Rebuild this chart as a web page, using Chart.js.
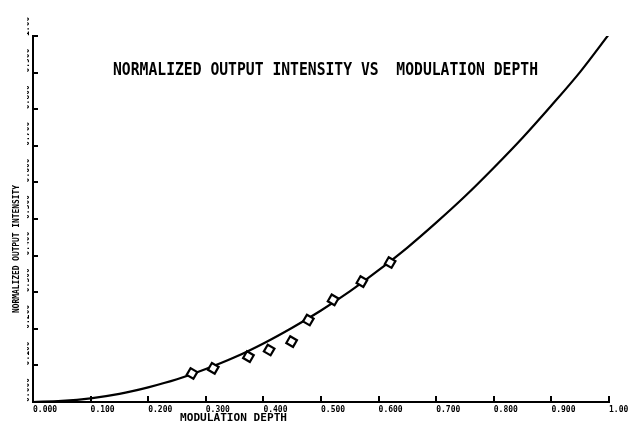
<!DOCTYPE html>
<html>
<head>
<meta charset="utf-8">
<script src="https://cdn.jsdelivr.net/npm/chart.js@4.4.0/dist/chart.umd.min.js"></script>
<style>
  html, body { margin: 0; padding: 0; background: #fff; overflow: hidden; }
  canvas { display: block; }
</style>
</head>
<body>
<canvas id="chart" width="628" height="424"></canvas>
<script>
// Theoretical curve: normalized output intensity vs modulation depth
const curveDepth = [0.00, 0.05, 0.10, 0.15, 0.20, 0.25, 0.30, 0.35, 0.40, 0.45, 0.50,
                    0.55, 0.60, 0.65, 0.70, 0.75, 0.80, 0.85, 0.90, 0.95, 1.00];
const curveIntensity = [0.000, 0.003, 0.010, 0.022, 0.040, 0.062, 0.090, 0.122, 0.160, 0.203, 0.250,
                        0.302, 0.360, 0.422, 0.490, 0.562, 0.640, 0.722, 0.810, 0.902, 1.005];

// Measured points
const measDepth = [0.276, 0.313, 0.374, 0.410, 0.449, 0.478, 0.521, 0.571, 0.620];
const measIntensity = [0.078, 0.092, 0.124, 0.142, 0.165, 0.224, 0.279, 0.329, 0.381];

// Axis tick labels
const xTickLabels = ['0.000', '0.100', '0.200', '0.300', '0.400', '0.500', '0.600', '0.700', '0.800', '0.900', '1.00'];
const yTickLabels = ['0.000', '0.100', '0.200', '0.300', '0.400', '0.500', '0.600', '0.700', '0.800', '0.900', '1.00'];

const chartTitle = 'NORMALIZED OUTPUT INTENSITY VS  MODULATION DEPTH';
const xAxisTitle = 'MODULATION DEPTH';
const yAxisTitle = 'NORMALIZED OUTPUT INTENSITY';

const MONO = "'DejaVu Sans Mono', 'Liberation Mono', monospace";

function drawFitted(ctx, text, x, y, width, font, rotate) {
  ctx.save();
  ctx.font = font;
  const w = ctx.measureText(text).width;
  ctx.translate(x, y);
  if (rotate) ctx.rotate(rotate);
  ctx.scale(width / w, 1);
  ctx.textAlign = 'center';
  ctx.textBaseline = 'middle';
  ctx.fillStyle = '#000';
  ctx.fillText(text, 0, 0);
  ctx.restore();
}

// Inward tick marks plus the free-standing titles
const plotDecor = {
  id: 'plotDecor',
  afterDraw(chart) {
    const { ctx, chartArea: a, scales: { x, y } } = chart;
    ctx.save();
    ctx.strokeStyle = '#000';
    ctx.lineWidth = 2;
    ctx.beginPath();
    x.ticks.forEach(t => {
      const px = Math.round(x.getPixelForValue(t.value));
      ctx.moveTo(px, a.bottom);
      ctx.lineTo(px, a.bottom - 6);
    });
    y.ticks.forEach(t => {
      const py = Math.round(y.getPixelForValue(t.value));
      ctx.moveTo(a.left, py);
      ctx.lineTo(a.left + 5, py);
    });
    ctx.stroke();
    ctx.restore();

    drawFitted(ctx, chartTitle, 325.5, 71, 425, 'bold 17px ' + MONO);
    drawFitted(ctx, xAxisTitle, 233.5, 418, 107, 'bold 11px ' + MONO);
    drawFitted(ctx, yAxisTitle, 17, 249, 128, 'bold 9px ' + MONO, -Math.PI / 2);
  }
};

new Chart(document.getElementById('chart'), {
  type: 'line',
  data: {
    datasets: [
      {
        data: curveDepth.map((d, i) => ({ x: d, y: curveIntensity[i] })),
        borderColor: '#000',
        borderWidth: 2.2,
        pointRadius: 0,
        cubicInterpolationMode: 'monotone',
        fill: false,
        order: 2
      },
      {
        data: measDepth.map((d, i) => ({ x: d, y: measIntensity[i] })),
        showLine: false,
        pointStyle: 'rect',
        pointRotation: 30,
        pointRadius: 5.5,
        pointBorderWidth: 2.2,
        pointBorderColor: '#000',
        pointBackgroundColor: '#fff',
        order: 1
      }
    ]
  },
  options: {
    responsive: false,
    devicePixelRatio: 1,
    animation: false,
    layout: { padding: { left: 27, right: 19, top: 36, bottom: 0 } },
    plugins: { legend: { display: false }, tooltip: { enabled: false }, title: { display: false } },
    scales: {
      x: {
        type: 'linear',
        min: 0, max: 1,
        grid: { display: false, drawTicks: false },
        border: { display: true, color: '#000', width: 2 },
        ticks: {
          stepSize: 0.1,
          align: 'start',
          padding: 3,
          maxRotation: 0,
          color: '#000',
          font: { family: MONO, size: 8, weight: 'bold' },
          callback: (v, i) => xTickLabels[i]
        },
        afterFit(s) { s.height = 22; s.paddingLeft = 0; s.paddingRight = 0; }
      },
      y: {
        type: 'linear',
        min: 0, max: 1,
        grid: { display: false, drawTicks: false },
        border: { display: true, color: '#000', width: 2 },
        ticks: {
          stepSize: 0.1,
          minRotation: 90,
          maxRotation: 90,
          crossAlign: 'far',
          color: '#000',
          font: { family: MONO, size: 8, weight: 'bold' },
          callback: (v, i) => yTickLabels[i]
        },
        afterFit(s) { s.width = 6; s.paddingTop = 0; s.paddingBottom = 0; }
      }
    }
  },
  plugins: [plotDecor]
});
</script>
</body>
</html>
